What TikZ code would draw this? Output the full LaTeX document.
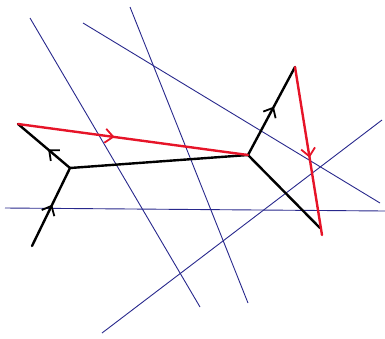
\documentclass[tikz,border=0pt]{standalone}
\usepackage{xcolor}
\usetikzlibrary{arrows.meta, decorations.markings}

\definecolor{linenavy}{RGB}{40,40,140}
\definecolor{pathred}{RGB}{230,20,40}

\tikzset{
  mirror/.style={linenavy, line width=0.9pt},
  ray/.style={black, line width=2.4pt, line cap=round},
  redray/.style={pathred, line width=2.4pt, line cap=round},
  midarrow/.style={postaction={decorate},
    decoration={markings, mark=at position #1 with {\arrow[line width=1.8pt]{Straight Barb[length=8pt, width=14pt]}}}}
}

\begin{document}
\begin{tikzpicture}[x=1pt, y=-1pt]
    \useasboundingbox (0,0) rectangle (385,338);
    % lines
    \coordinate (m1a) at (30,18);   \coordinate (m1b) at (200,307);
    \coordinate (m2a) at (130,7);   \coordinate (m2b) at (248,303);
    \coordinate (m3a) at (83,23);   \coordinate (m3b) at (380,203);
    \coordinate (m4a) at (5,208);   \coordinate (m4b) at (385,211);
    \coordinate (m5a) at (102,333); \coordinate (m5b) at (382,120);
    % path points
    \coordinate (start) at (32,246);
    \coordinate (fork) at (70,168);
    \coordinate (left) at (18,124);
    \coordinate (mid) at (248,155);
    \coordinate (top) at (295,67);
    \coordinate (low) at (320,228);
    \coordinate (end) at (322,235);

    \foreach \i in {1,...,5}
        \draw[mirror] (m\i a) -- (m\i b);

    \draw[ray, midarrow=0.53] (start) -- (fork);
    \draw[ray, midarrow=0.42] (fork) -- (left);
    \draw[ray] (fork) -- (mid);
    \draw[ray, midarrow=0.55] (mid) -- (top);
    \draw[ray] (mid) -- (low);

    \draw[redray, midarrow=0.42] (left) -- (mid);
    \draw[redray, midarrow=0.54] (top) -- (end);
\end{tikzpicture}
\end{document}
